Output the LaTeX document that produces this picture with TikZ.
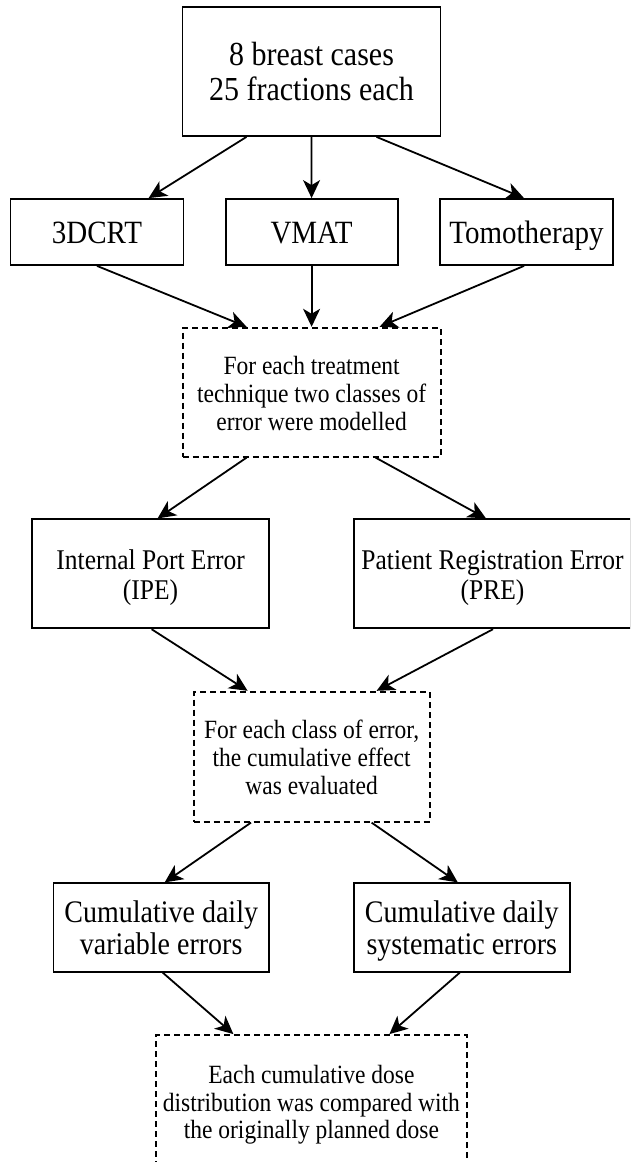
\documentclass[tikz,border=0pt]{standalone}
\usepackage{fontspec}
\usepackage{graphicx}
\setmainfont{Liberation Serif}
\usetikzlibrary{arrows.meta,calc}
\newcommand{\vtxt}[1]{\raisebox{-4.5pt}[\height][\depth]{\scalebox{1}[1.12]{\begin{tabular}{@{}c@{}}#1\end{tabular}}}}
\tikzset{
  box/.style={draw=black, line width=1.8pt, fill=white, align=center, inner sep=0pt},
  dbox/.style={box, dash pattern=on 6pt off 4pt},
  arr/.style={line width=1.8pt, -{Stealth[length=18pt,width=17pt,inset=5pt]}},
  fA/.style={font=\fontsize{30}{31.25}\selectfont},
  fB/.style={font=\fontsize{29}{30}\selectfont},
  fC/.style={font=\fontsize{23.5}{24.8}\selectfont},
  fD/.style={font=\fontsize{25.5}{26.8}\selectfont},
  fE/.style={font=\fontsize{28}{29}\selectfont}
}
\begin{document}
\begin{tikzpicture}[x=1pt,y=-1pt]
\useasboundingbox (0,0) rectangle (630,1162);
\clip (0,0) rectangle (630,1162);
\fill[white] (0,0) rectangle (630,1162);
% nodes
\node[box,fA,minimum width=258pt,minimum height=129pt] (top) at (311.5,71.5) {\vtxt{8 breast cases\\25 fractions each}};
\node[box,fB,minimum width=173pt,minimum height=66pt] (b3d) at (97,232) {\vtxt{3DCRT}};
\node[box,fB,minimum width=172pt,minimum height=66pt] (vmat) at (311.6,232) {\vtxt{VMAT}};
\node[box,fB,minimum width=173pt,minimum height=66pt] (tomo) at (526.5,232) {\vtxt{Tomotherapy}};
\node[dbox,fC,minimum width=258pt,minimum height=129pt] (d1) at (311.6,392.2) {\vtxt{For each treatment\\technique two classes of\\error were modelled}};
\node[box,fD,minimum width=237pt,minimum height=109pt] (ipe) at (150.6,573.8) {\vtxt{Internal Port Error\\(IPE)}};
\node[box,fD,minimum width=277pt,minimum height=109pt] (pre) at (492.5,573.8) {\vtxt{Patient Registration Error\\(PRE)}};
\node[dbox,fC,minimum width=236pt,minimum height=130pt] (d2) at (311.6,756.7) {\vtxt{For each class of error,\\the cumulative effect\\was evaluated}};
\node[box,fE,minimum width=215.6pt,minimum height=88.4pt] (cdv) at (161.2,927.5) {\vtxt{Cumulative daily\\variable errors}};
\node[box,fE,minimum width=215.6pt,minimum height=88.4pt] (cds) at (461.8,927.5) {\vtxt{Cumulative daily\\systematic errors}};
\node[dbox,fC,minimum width=311pt,minimum height=132pt] (bot) at (311.4,1101) {\vtxt{Each cumulative dose\\distribution was compared with\\the originally planned dose}};
% connectors
\draw[arr] ([xshift=-65pt]top.south) -- ([xshift=51.6pt]b3d.north);
\draw[arr] (top.south) -- (vmat.north);
\draw[arr] ([xshift=65pt]top.south) -- ([xshift=-2.5pt]tomo.north);
\draw[arr] (b3d.south) -- ([xshift=-65pt]d1.north);
\draw[arr] (vmat.south) -- (d1.north);
\draw[arr] ([xshift=-2.5pt]tomo.south) -- ([xshift=68pt]d1.north);
\draw[arr] ([xshift=-65pt]d1.south) -- ([xshift=7pt]ipe.north);
\draw[arr] ([xshift=64pt]d1.south) -- ([xshift=-6.5pt]pre.north);
\draw[arr] ([xshift=1pt]ipe.south) -- ([xshift=-64pt]d2.north);
\draw[arr] ([xshift=0.5pt]pre.south) -- ([xshift=65pt]d2.north);
\draw[arr] ([xshift=-60.6pt]d2.south) -- ([xshift=3.5pt]cdv.north);
\draw[arr] ([xshift=60pt]d2.south) -- ([xshift=-4pt]cds.north);
\draw[arr] ([xshift=1.5pt]cdv.south) -- ([xshift=-78pt]bot.north);
\draw[arr] ([xshift=-2pt]cds.south) -- ([xshift=78pt]bot.north);
\end{tikzpicture}
\end{document}
